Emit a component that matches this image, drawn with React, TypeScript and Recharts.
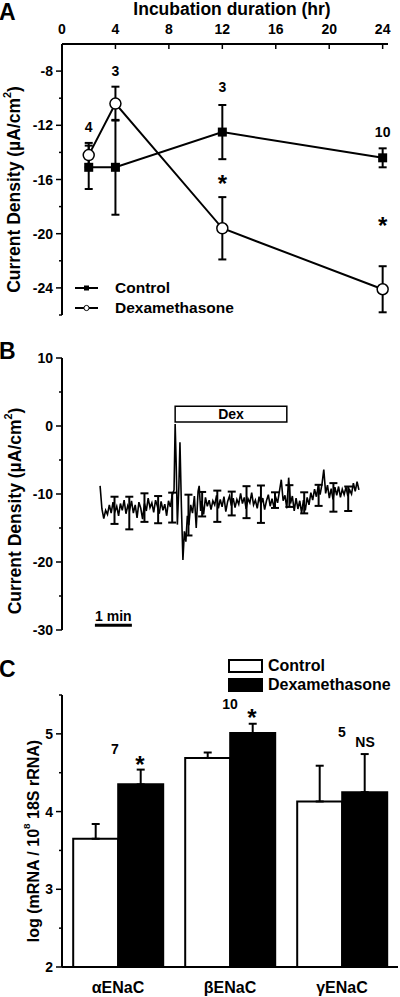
import React from 'react'
import {
  ComposedChart,
  BarChart,
  Bar,
  Line,
  Scatter,
  XAxis,
  YAxis,
  ErrorBar,
  ReferenceArea,
  ReferenceLine,
  ReferenceDot,
  Legend,
} from 'recharts'

const FONT = "'Liberation Sans', Arial, Helvetica, sans-serif"
const AXIS = { stroke: '#000', strokeWidth: 2 }

// ---- Panel A: current density vs incubation time ----
const hours = [2, 4, 12, 24]
const controlMean = [-15.1, -15.1, -12.5, -14.4]
const controlSem = [1.6, 3.5, 2.0, 0.7]
const dexMean = [-14.2, -10.4, -19.6, -24.1]
const dexSem = [0.9, 1.25, 2.3, 1.7]
const hourTicks = [0, 4, 8, 12, 16, 20, 24]
const densityTicks = [-26, -24, -22, -20, -18, -16, -14, -12, -10, -8]
const densityMajors = [-24, -20, -16, -12, -8]
const annotA = [
  { hr: 2, y: -12.1, text: '4', size: 14 },
  { hr: 4, y: -8.0, text: '3', size: 14 },
  { hr: 12, y: -9.2, text: '3', size: 14 },
  { hr: 24, y: -12.5, text: '10', size: 14 },
  { hr: 12, y: -16.3, text: '*', size: 24 },
  { hr: 24, y: -19.4, text: '*', size: 24 },
]

// ---- Panel B: short-circuit trace (minutes, µA/cm2) ----
const traceB: [number, number][] = [
  [0.0, -8.8], [0.05, -12.2], [0.1, -13.6], [0.15, -12.4], [0.2, -13.0], [0.25, -11.6], [0.3, -12.8], [0.35, -11.2], [0.4, -12.6], [0.45, -11.8],
  [0.5, -13.2], [0.55, -11.4], [0.6, -12.4], [0.65, -10.9], [0.7, -12.9], [0.75, -11.7], [0.8, -12.3], [0.85, -11.0], [0.9, -12.8], [0.95, -11.6],
  [1.0, -13.5], [1.05, -11.2], [1.1, -12.1], [1.15, -13.7], [1.2, -11.4], [1.25, -12.5], [1.3, -10.6], [1.35, -12.0], [1.4, -11.3], [1.45, -12.7],
  [1.5, -10.9], [1.55, -11.8], [1.6, -12.9], [1.65, -11.1], [1.7, -12.4], [1.75, -11.5], [1.8, -13.2], [1.85, -11.0], [1.9, -11.9], [1.95, -10.2],
  [2.0, -9.4], [2.03, 0.3], [2.06, -6.0], [2.09, -14.5], [2.13, -9.0], [2.16, -2.4], [2.2, -12.0], [2.24, -19.7], [2.28, -15.5], [2.32, -17.0],
  [2.36, -13.2], [2.4, -14.6], [2.45, -11.6], [2.5, -12.8], [2.55, -10.3], [2.6, -15.0], [2.65, -9.6], [2.68, -8.8], [2.72, -12.5], [2.75, -11.0],
  [2.8, -13.0], [2.85, -10.5], [2.9, -11.8], [2.95, -10.9], [3.0, -12.3], [3.05, -11.0], [3.1, -11.6], [3.15, -10.2], [3.2, -12.1], [3.25, -10.8],
  [3.3, -11.9], [3.35, -10.4], [3.4, -12.6], [3.45, -11.1], [3.5, -10.3], [3.55, -11.7], [3.6, -10.6], [3.65, -12.0], [3.7, -10.8], [3.75, -11.5],
  [3.8, -9.9], [3.85, -11.4], [3.9, -10.5], [3.95, -12.2], [4.0, -10.7], [4.05, -11.3], [4.1, -9.8], [4.15, -11.6], [4.2, -10.9], [4.25, -12.1],
  [4.3, -10.4], [4.35, -11.5], [4.4, -10.6], [4.45, -12.3], [4.5, -11.0], [4.55, -10.1], [4.6, -11.8], [4.65, -10.7], [4.7, -11.9], [4.75, -10.5],
  [4.8, -11.3], [4.85, -9.6], [4.9, -7.9], [4.95, -11.0], [5.0, -10.2], [5.05, -12.1], [5.1, -7.6], [5.15, -11.4], [5.2, -10.3], [5.25, -12.5],
  [5.3, -10.6], [5.35, -12.2], [5.4, -11.0], [5.45, -12.8], [5.5, -10.9], [5.55, -12.4], [5.6, -10.5], [5.65, -11.6], [5.7, -9.8], [5.75, -10.9],
  [5.8, -9.3], [5.85, -10.4], [5.9, -8.8], [5.95, -10.1], [6.0, -8.6], [6.05, -6.4], [6.1, -9.9], [6.15, -8.7], [6.2, -10.6], [6.25, -9.2],
  [6.3, -10.8], [6.35, -9.0], [6.4, -10.2], [6.45, -8.9], [6.5, -10.5], [6.55, -9.3], [6.6, -10.1], [6.65, -9.0], [6.7, -10.3], [6.75, -9.4],
  [6.8, -10.0], [6.85, -8.4], [6.9, -9.6], [6.95, -8.2], [7.0, -9.4],
]
const bBarTime = [0.39, 0.79, 1.2, 1.57, 1.95, 2.39, 2.76, 3.17, 3.56, 3.96, 4.35, 4.73, 5.12, 5.52, 5.91, 6.31, 6.71]
const bBarMean = [-12.4, -12.8, -12.0, -12.3, -12.0, -13.1, -11.5, -11.8, -11.4, -11.2, -11.5, -10.9, -10.3, -11.3, -10.2, -10.5, -10.7]
const bBarErr = [2.0, 2.4, 2.1, 2.0, 2.2, 3.0, 1.8, 2.3, 1.75, 2.35, 2.75, 1.15, 1.6, 1.55, 1.55, 2.1, 1.8]
const dexWindow = [2.03, 5.05]
const scaleBarMin = [-0.14, 0.86]
const currentTicks = [-30, -25, -20, -15, -10, -5, 0, 5, 10]
const currentMajors = [-30, -20, -10, 0, 10]

// ---- Panel C: ENaC subunit mRNA ----
const genes = ['\u03b1ENaC', '\u03b2ENaC', '\u03b3ENaC']
const controlLog = [3.65, 4.69, 4.13]
const controlLogErr = [0.19, 0.07, 0.46]
const dexLog = [4.35, 5.01, 4.25]
const dexLogErr = [0.19, 0.12, 0.49]
const logTicks = [2, 2.5, 3, 3.5, 4, 4.5, 5, 5.5]
const logMajors = [2, 3, 4, 5]
const annotC = [
  { gene: genes[0], y: 4.8, text: '7', size: 14, dx: -3 },
  { gene: genes[1], y: 5.38, text: '10', size: 14, dx: 0 },
  { gene: genes[2], y: 5.03, text: '5', size: 14, dx: 0 },
  { gene: genes[0], y: 4.6, text: '*', size: 24, dx: 22 },
  { gene: genes[1], y: 5.21, text: '*', size: 24, dx: 22 },
  { gene: genes[2], y: 4.9, text: 'NS', size: 14, dx: 23 },
]

const LeftTick = (p: any) => {
  const major = p.majors.includes(p.payload.value)
  return (
    <g>
      <line x1={p.x - (major ? 6 : 3)} x2={p.x} y1={p.y} y2={p.y} stroke="#000" strokeWidth={1.5} />
      {major && (
        <text x={p.x - 9} y={p.y} textAnchor="end" dominantBaseline="central" fontSize={14} fontWeight="bold" fill="#000" fontFamily={FONT}>
          {p.payload.value}
        </text>
      )}
    </g>
  )
}

const TopTick = (p: any) => (
  <g>
    <line x1={p.x} x2={p.x} y1={p.y} y2={p.y + 5} stroke="#000" strokeWidth={1.5} />
    <text x={p.x} y={p.y - 10} textAnchor="middle" fontSize={14} fontWeight="bold" fill="#000" fontFamily={FONT}>
      {p.payload.value}
    </text>
  </g>
)

const annLabel = (text: string, size: number, dx = 0) => (props: any) => {
  const vb = props.viewBox || { x: 0, y: 0, width: 0, height: 0 }
  return (
    <text
      x={vb.x + vb.width / 2 + dx}
      y={vb.y + vb.height / 2}
      textAnchor="middle"
      dominantBaseline="central"
      fontSize={size}
      fontWeight="bold"
      fill="#000"
      fontFamily={FONT}
    >
      {text}
    </text>
  )
}

// rotated y title, with a superscript
const yTitle = (main: string, sup: string, tail: string, size: number, dx: number, dy: number) => (props: any) => {
  const vb = props.viewBox
  const cx = vb.x + dx
  const cy = vb.y + vb.height / 2 + dy
  return (
    <text
      x={cx}
      y={cy}
      transform={`rotate(-90, ${cx}, ${cy})`}
      textAnchor="middle"
      dominantBaseline="central"
      fontSize={size}
      fontWeight="bold"
      fill="#000"
      fontFamily={FONT}
    >
      {main}
      <tspan dy={-7} fontSize={size * 0.62}>{sup}</tspan>
      <tspan dy={7}>{tail}</tspan>
    </text>
  )
}

const LegendA = ({ payload }: any) => (
  <div style={{ fontFamily: FONT, fontWeight: 'bold', fontSize: 15.5, color: '#000' }}>
    {(payload || []).map((p: any) => (
      <div key={p.value} style={{ display: 'flex', alignItems: 'center', height: 20 }}>
        <svg width={23} height={10} style={{ marginRight: 17 }}>
          <line x1={0} x2={23} y1={5} y2={5} stroke="#000" strokeWidth={2} />
          {p.dataKey === 'control' ? (
            <rect x={9} y={2.5} width={5} height={5} fill="#000" />
          ) : (
            <circle cx={11.5} cy={5} r={2.6} fill="#fff" stroke="#000" strokeWidth={1} />
          )}
        </svg>
        <span>{p.value}</span>
      </div>
    ))}
  </div>
)

const LegendC = ({ payload }: any) => (
  <div style={{ fontFamily: FONT, fontWeight: 'bold', fontSize: 16, color: '#000' }}>
    {(payload || []).map((p: any) => (
      <div key={p.value} style={{ display: 'flex', alignItems: 'center', height: 19.5 }}>
        <div
          style={{
            width: 31,
            height: 10,
            border: '2px solid #000',
            background: p.dataKey === 'control' ? '#fff' : '#000',
            marginRight: 5,
          }}
        />
        <span>{p.value}</span>
      </div>
    ))}
  </div>
)

function PanelA() {
  const data = hours.map((hr, i) => ({
    hr,
    control: controlMean[i],
    controlErr: controlSem[i],
    dex: dexMean[i],
    dexErr: dexSem[i],
  }))
  return (
    <ComposedChart width={400} height={330} data={data} margin={{ top: 14, right: 12, bottom: 15, left: 22 }}>
      <XAxis
        type="number"
        dataKey="hr"
        orientation="top"
        domain={[0, 24.4]}
        ticks={hourTicks}
        interval={0}
        height={30}
        tickSize={0}
        tickMargin={0}
        tickLine={false}
        axisLine={AXIS}
        tick={TopTick}
        label={(props: any) => (
          <text
            x={props.viewBox.x + props.viewBox.width / 2 + 7}
            y={props.viewBox.y + 1}
            textAnchor="middle"
            fontSize={17.5}
            fontWeight="bold"
            fill="#000"
            fontFamily={FONT}
          >
            Incubation duration (hr)
          </text>
        )}
      />
      <YAxis
        type="number"
        domain={[-26, -6]}
        ticks={densityTicks}
        interval={0}
        width={40}
        tickSize={0}
        tickMargin={0}
        tickLine={false}
        axisLine={AXIS}
        tick={(p: any) => <LeftTick {...p} majors={densityMajors} />}
        label={yTitle('Current Density (\u00b5A/cm', '2', ')', 17.5, -8, 10)}
      />
      <Line
        dataKey="control"
        name="Control"
        stroke="#000"
        strokeWidth={2}
        isAnimationActive={false}
        dot={(p: any) => <rect key={`c-${p.index}`} x={p.cx - 4.5} y={p.cy - 4.5} width={9} height={9} fill="#000" />}
      >
        <ErrorBar dataKey="controlErr" direction="y" width={4} strokeWidth={2} stroke="#000" />
      </Line>
      <Line
        dataKey="dex"
        name="Dexamethasone"
        stroke="#000"
        strokeWidth={2}
        isAnimationActive={false}
        dot={{ r: 5.5, fill: '#fff', stroke: '#000', strokeWidth: 1.5 }}
      >
        <ErrorBar dataKey="dexErr" direction="y" width={4} strokeWidth={2} stroke="#000" />
      </Line>
      {annotA.map((a, i) => (
        <ReferenceDot key={i} x={a.hr} y={a.y} r={0} fill="none" stroke="none" label={annLabel(a.text, a.size)} />
      ))}
      <Legend
        layout="vertical"
        align="center"
        verticalAlign="middle"
        content={<LegendA />}
        wrapperStyle={{ left: 75, top: 278, width: 'auto' }}
      />
    </ComposedChart>
  )
}

function PanelB() {
  const trace = traceB.map(([t, v]) => ({ t, v }))
  const bars = bBarTime.map((t, i) => ({ t, v: bBarMean[i], e: bBarErr[i] }))
  return (
    <ComposedChart width={400} height={310} margin={{ top: 28, right: 20, bottom: 10, left: 22 }}>
      <XAxis type="number" dataKey="t" domain={[-1.03, 7.57]} hide allowDataOverflow />
      <YAxis
        type="number"
        domain={[-30, 10]}
        ticks={currentTicks}
        interval={0}
        width={40}
        tickSize={0}
        tickMargin={0}
        tickLine={false}
        axisLine={AXIS}
        tick={(p: any) => <LeftTick {...p} majors={currentMajors} />}
        label={yTitle('Current Density (\u00b5A/cm', '2', ')', 17.5, -7, 17)}
      />
      <Line data={trace} dataKey="v" stroke="#000" strokeWidth={1.6} dot={false} isAnimationActive={false} />
      <Scatter data={bars} dataKey="v" shape={() => <g />} isAnimationActive={false}>
        <ErrorBar dataKey="e" direction="y" width={4} strokeWidth={2} stroke="#000" />
      </Scatter>
      <ReferenceArea
        x1={dexWindow[0]}
        x2={dexWindow[1]}
        y1={0.6}
        y2={2.9}
        fill="#fff"
        fillOpacity={1}
        stroke="#000"
        strokeWidth={1.5}
        label={annLabel('Dex', 14)}
      />
      <ReferenceLine
        segment={[
          { x: scaleBarMin[0], y: -29.3 },
          { x: scaleBarMin[1], y: -29.3 },
        ]}
        stroke="#000"
        strokeWidth={3}
      />
      <ReferenceDot x={0.36} y={-27.9} r={0} fill="none" stroke="none" label={annLabel('1 min', 14)} />
    </ComposedChart>
  )
}

function PanelC() {
  const data = genes.map((gene, i) => ({
    gene,
    control: controlLog[i],
    controlErr: [0, controlLogErr[i]],
    dex: dexLog[i],
    dexErr: [0, dexLogErr[i]],
  }))
  return (
    <BarChart
      width={400}
      height={357}
      data={data}
      margin={{ top: 55, right: 2, bottom: 0, left: 22 }}
      barCategoryGap="10%"
      barGap={0}
    >
      <XAxis
        dataKey="gene"
        height={30}
        interval={0}
        tickLine={false}
        tickSize={0}
        tickMargin={15}
        axisLine={AXIS}
        tick={{ fontSize: 16, fontWeight: 'bold', fill: '#000', fontFamily: FONT }}
      />
      <YAxis
        type="number"
        domain={[2, 5.5]}
        ticks={logTicks}
        interval={0}
        width={40}
        tickSize={0}
        tickMargin={0}
        tickLine={false}
        axisLine={AXIS}
        tick={(p: any) => <LeftTick {...p} majors={logMajors} />}
        label={yTitle('log (mRNA / 10', '8', ' 18S rRNA)', 16, 11, 10)}
      />
      <Bar dataKey="control" name="Control" fill="#fff" stroke="#000" strokeWidth={2} isAnimationActive={false}>
        <ErrorBar dataKey="controlErr" width={4} strokeWidth={2} stroke="#000" />
      </Bar>
      <Bar dataKey="dex" name="Dexamethasone" fill="#000" stroke="#000" strokeWidth={2} isAnimationActive={false}>
        <ErrorBar dataKey="dexErr" width={4} strokeWidth={2} stroke="#000" />
      </Bar>
      {annotC.map((a, i) => (
        <ReferenceDot key={i} x={a.gene} y={a.y} r={0} fill="none" stroke="none" label={annLabel(a.text, a.size, a.dx)} />
      ))}
      <Legend
        layout="vertical"
        align="center"
        verticalAlign="middle"
        content={<LegendC />}
        wrapperStyle={{ left: 228, top: 16, width: 'auto' }}
      />
    </BarChart>
  )
}

export default function App() {
  return (
    <div style={{ position: 'absolute', left: 0, top: 0, width: 400, height: 997, background: '#fff', fontFamily: FONT }}>
      <div style={{ position: 'absolute', left: 0, top: 0 }}>
        <PanelA />
      </div>
      <div style={{ position: 'absolute', left: 0, top: 330 }}>
        <PanelB />
      </div>
      <div style={{ position: 'absolute', left: 0, top: 640 }}>
        <PanelC />
      </div>
      <svg width={400} height={997} style={{ position: 'absolute', left: 0, top: 0, pointerEvents: 'none' }}>
        <g fontFamily={FONT} fontWeight="bold" fontSize={23} fill="#000">
          <text x={-1} y={20}>A</text>
          <text x={-1} y={359}>B</text>
          <text x={-1} y={677}>C</text>
        </g>
      </svg>
    </div>
  )
}
